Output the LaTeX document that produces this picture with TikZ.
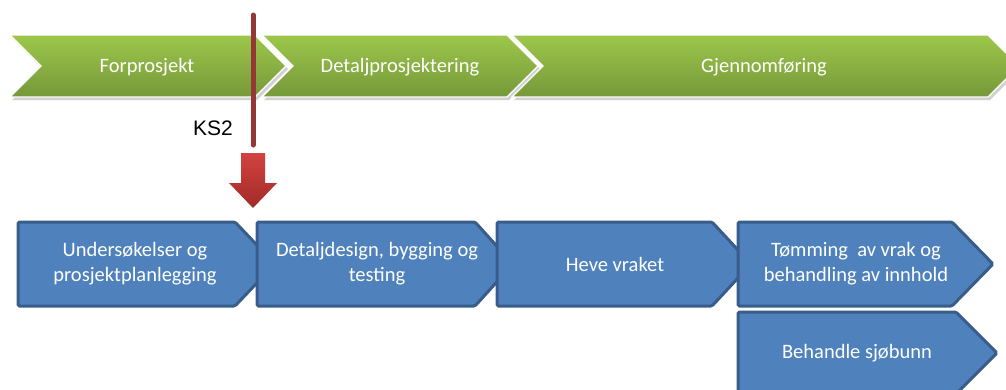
\documentclass[tikz,border=0pt]{standalone}
\usepackage{fontspec}
\setmainfont{Carlito}
\newfontfamily\arialfont{Liberation Sans}
\definecolor{gtop}{HTML}{9DC74B}
\definecolor{gbot}{HTML}{76983A}
\definecolor{bfill}{HTML}{4F81BD}
\definecolor{bline}{HTML}{385D8A}
\definecolor{ksred}{HTML}{953735}
\definecolor{rtop}{HTML}{D2433F}
\definecolor{rbot}{HTML}{A22A28}
\tikzset{
  phase/.style={top color=gtop, bottom color=gbot, draw=white, line width=1.2pt, line join=miter},
  phaseshadow/.style={fill=black, opacity=0.18},
  stepbox/.style={fill=bfill, draw=bline, line width=3pt, rounded corners=1.5pt},
  gtext/.style={text=white, font=\fontsize{20.5}{24}\selectfont, inner sep=0pt},
  btext/.style={text=white, font=\fontsize{20.5}{25}\selectfont, align=center, inner sep=0pt},
}
\begin{document}
\begin{tikzpicture}[x=1pt,y=-1pt]
\useasboundingbox (0,0) rectangle (1006,389);
\clip (0,0) rectangle (1006,389);
% green phase chevrons
\foreach \a/\b in {10/255,262/507,512/988}{
  \fill[phaseshadow] (\a+2,38) -- (\b+2,38) -- (\b+33,69) -- (\b+2,100) -- (\a+2,100) -- (\a+33,69) -- cycle;
}
\path[phase] (10,35) -- (255,35) -- (286,66) -- (255,97) -- (10,97) -- (41,66) -- cycle;
\path[phase] (262,35) -- (507,35) -- (538,66) -- (507,97) -- (262,97) -- (293,66) -- cycle;
\path[phase] (512,35) -- (988,35) -- (1019,66) -- (988,97) -- (512,97) -- (543,66) -- cycle;
\node[gtext] (p1) at (147,67) {Forprosjekt};
\node[gtext] (p2) at (400,67) {Detaljprosjektering};
\node[gtext] (p3) at (764,67) {Gjennomføring};
% KS2 marker
\coordinate (kstop) at (253,15);
\coordinate (ksbot) at (253,145);
\draw[ksred, line width=5pt, line cap=round] (kstop) -- (ksbot);
\node[font=\arialfont\fontsize{21}{24}\selectfont, inner sep=0pt] (ks) at (213,128) {KS2};
% red arrow
\path[top color=rtop, bottom color=rbot] (241,153) -- (265,153) -- (265,183) -- (277,183) -- (253,208) -- (229,183) -- (241,183) -- cycle;
% blue step boxes
\path[stepbox] (18,222) -- (235,222) -- (275,264) -- (235,306) -- (18,306) -- cycle;
\path[stepbox] (257,222) -- (475,222) -- (513,264) -- (475,306) -- (257,306) -- cycle;
\path[stepbox] (497,222) -- (712,222) -- (751,264) -- (712,306) -- (497,306) -- cycle;
\path[stepbox] (738,222) -- (952,222) -- (993,264) -- (952,306) -- (738,306) -- cycle;
\path[stepbox] (738,312) -- (956,312) -- (997,353) -- (956,394) -- (738,394) -- cycle;
\node[btext] (s1) at (135,264) {Undersøkelser og\\prosjektplanlegging};
\node[btext] (s2) at (377,264) {Detaljdesign, bygging og\\testing};
\node[btext] (s3) at (615,264) {Heve vraket};
\node[btext] (s4) at (856,264) {Tømming\ \ av vrak og\\behandling av innhold};
\node[btext] (s5) at (857,353) {Behandle sjøbunn};
\end{tikzpicture}
\end{document}
